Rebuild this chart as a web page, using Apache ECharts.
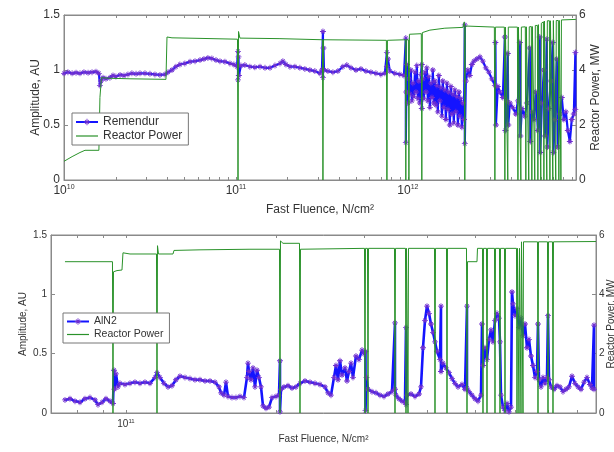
<!DOCTYPE html>
<html><head><meta charset="utf-8">
<script src="https://cdn.jsdelivr.net/npm/echarts@6.0.0/dist/echarts.min.js"></script>
<style>html,body{margin:0;padding:0;background:#fff}#c{width:614px;height:452px}</style>
</head><body><div id="c"></div>
<script>
// ---- Top panel: Remendur amplitude (log10 of fast fluence, amplitude AU)
const remLogF = [10.000,10.023,10.047,10.070,10.093,10.116,10.140,10.163,10.186,10.203,
10.209,10.215,10.227,10.244,10.267,10.285,10.302,10.326,10.349,10.372,
10.395,10.419,10.442,10.471,10.500,10.529,10.558,10.587,10.605,10.628,
10.651,10.674,10.703,10.733,10.762,10.791,10.814,10.837,10.860,10.884,
10.907,10.936,10.965,10.988,11.006,11.012,11.012,11.015,11.017,11.029,
11.052,11.081,11.110,11.140,11.169,11.198,11.227,11.256,11.273,11.291,
11.314,11.343,11.372,11.401,11.430,11.459,11.488,11.500,11.506,11.506,
11.509,11.512,11.535,11.564,11.593,11.622,11.645,11.669,11.698,11.727,
11.756,11.785,11.814,11.843,11.866,11.878,11.878,11.884,11.895,11.924,
11.953,11.977,
11.988,11.988,11.991,11.994,12.000,12.006,12.012,12.017,12.023,12.029,
12.035,12.041,12.047,12.052,12.058,12.064,12.070,12.076,12.081,12.081,
12.087,12.093,12.099,12.105,12.110,12.116,12.122,12.128,12.134,12.140,
12.145,12.151,12.157,12.163,12.169,12.174,12.180,12.186,12.192,12.198,
12.203,12.209,12.215,12.221,12.227,12.233,12.238,12.244,12.250,12.256,
12.262,12.267,12.273,12.279,12.285,12.291,12.297,12.302,12.308,12.314,
12.320,12.326,12.331,12.331,
12.337,12.349,
12.360,12.372,12.384,12.401,12.419,12.436,12.453,12.471,12.488,12.506,
12.509,12.512,12.523,12.535,12.552,12.564,12.567,12.576,12.581,12.584,
12.593,12.610,12.628,12.640,12.651,12.654,12.663,12.680,12.692,12.709,
12.712,12.721,12.733,12.744,12.756,12.767,12.770,12.779,12.791,12.797,
12.808,12.811,12.820,12.831,12.843,12.846,12.855,12.866,12.872,12.884,
12.895,12.907,12.919,12.930,12.942,12.953,12.965,12.974,12.974];
const remAmp = [0.97,0.98,0.97,0.975,0.97,0.98,0.975,0.98,0.985,0.97,
0.86,0.90,0.93,0.92,0.93,0.95,0.94,0.955,0.95,0.96,
0.97,0.965,0.97,0.97,0.965,0.96,0.955,0.96,0.98,1.0,
1.03,1.05,1.06,1.075,1.08,1.09,1.10,1.11,1.105,1.09,
1.08,1.075,1.06,1.05,1.03,1.17,0.91,1.12,0.95,1.04,
1.045,1.03,1.025,1.03,1.02,1.02,1.04,1.06,1.08,1.05,
1.03,1.03,1.02,1.01,1.0,0.99,0.97,1.0,1.35,0.93,
1.2,1.0,0.99,0.98,0.99,1.03,1.045,1.02,1.0,1.01,
0.99,0.98,0.97,0.96,0.97,1.16,1.03,1.1,0.99,0.97,
0.96,0.95,
1.29,0.34,0.80,1.05,0.70,0.92,0.78,1.00,0.72,0.88,
0.76,0.98,0.80,1.04,0.74,0.90,0.70,0.96,1.05,0.65,
0.92,0.74,0.98,0.80,1.02,0.72,0.94,0.66,0.88,0.75,
1.00,0.70,0.90,0.68,0.86,0.62,0.95,0.72,0.84,0.58,
0.90,0.66,0.82,0.55,0.88,0.64,0.80,0.50,0.85,0.60,
0.78,0.52,0.82,0.62,0.76,0.50,0.80,0.58,0.74,0.48,
0.70,0.55,1.41,0.33,
0.9,1.0,
0.95,1.05,1.08,1.1,1.12,1.08,1.02,0.98,0.92,0.86,
1.25,0.5,0.85,0.8,0.75,1.3,0.45,0.72,1.15,0.5,
0.7,0.66,0.6,0.72,1.25,0.4,0.65,0.58,0.7,1.2,
0.35,0.62,0.55,0.8,0.45,1.3,0.25,0.7,1.0,0.4,
1.28,0.3,0.65,0.9,1.25,0.25,0.55,1.1,0.3,0.6,
0.75,0.55,0.62,0.45,0.35,0.55,0.6,1.16,0.64];
// ---- Top panel: reactor power (MW)
const topPowLogF = [10.000,10.047,10.093,10.122,10.203,10.209,10.218,10.267,10.384,10.593,
10.599,10.628,10.791,11.009,11.012,11.015,11.023,11.256,11.503,11.506,
11.509,11.875,11.878,11.881,11.985,11.988,11.991,12.003,12.006,12.009,
12.078,12.081,12.084,12.128,12.215,12.320,12.328,12.331,12.334,12.343,
12.503,12.506,12.509,12.561,12.564,12.567,12.578,12.581,12.584,12.637,
12.640,12.643,12.654,12.657,12.660,12.683,12.686,12.689,12.700,12.703,
12.706,12.718,12.721,12.724,12.735,12.738,12.741,12.753,12.756,12.759,
12.770,12.773,12.776,12.788,12.791,12.794,12.805,12.808,12.811,12.823,
12.826,12.829,12.840,12.843,12.846,12.857,12.860,12.863,12.875,12.878,
12.881,12.887,12.890,12.893,12.977];
const topPow = [0.68,0.85,1.00,1.08,1.08,3.00,3.72,3.70,3.68,3.66,
5.20,5.17,5.15,5.12,0,5.40,5.16,5.14,5.10,0,
5.10,5.08,0,5.08,5.10,0,5.10,5.10,0,5.30,
5.32,0,5.36,5.45,5.52,5.55,5.75,0,5.60,5.56,
5.56,0,5.56,5.56,0,5.56,5.56,0,5.56,5.56,
0,5.56,5.56,0,5.56,5.57,0,5.57,5.57,0,
5.57,5.58,0,5.58,5.60,0,5.62,5.62,0,5.65,
5.68,0,5.70,5.75,0,5.78,5.78,0,5.79,5.79,
0,5.79,5.80,0,5.80,5.80,0,5.80,5.80,0,
5.80,5.80,0,5.82,5.84];
// ---- Bottom panel: AlN2 amplitude
const alnLogF = [10.878,10.888,10.898,10.908,10.918,10.928,10.938,10.944,10.952,10.960,
10.968,10.974,10.976,10.977,10.980,10.984,10.988,10.998,11.008,11.018,
11.028,11.038,11.048,11.058,11.062,11.068,11.076,11.084,11.092,11.100,
11.108,11.118,11.128,11.138,11.148,11.158,11.168,11.178,11.186,11.190,
11.196,11.200,11.204,11.212,11.220,11.228,11.236,11.242,11.244,11.246,
11.250,11.254,11.258,11.262,11.266,11.270,11.274,11.280,11.286,11.292,
11.300,11.306,11.308,11.308,11.310,11.316,11.324,11.332,11.340,11.348,
11.358,11.368,11.378,11.388,11.398,11.404,11.410,11.416,11.420,11.424,
11.428,11.432,11.438,11.442,11.446,11.450,11.454,11.460,11.466,11.472,
11.476,11.479,11.479,11.481,11.484,11.492,11.500,11.508,11.516,11.524,
11.532,11.538,11.538,11.540,11.546,11.552,11.558,11.560,11.560,11.562,
11.570,11.578,11.586,11.590,11.594,11.598,11.602,11.606,11.610,11.614,
11.618,11.622,11.628,11.630,11.630,11.634,11.640,11.646,11.652,11.658,
11.664,11.672,11.678,11.682,11.682,11.686,11.692,11.698,11.704,11.710,
11.712,11.714,11.718,11.722,11.726,11.730,11.734,11.738,11.742,11.746,
11.748,11.750,11.754,11.758,11.762,11.766,11.770,11.772,11.774,11.778,
11.782,11.786,11.790,11.794,11.798,11.802,11.806,11.810,11.814,11.818,
11.822,11.824,11.826,11.830,11.834,11.838,11.842,11.844,11.846,11.850,
11.856,11.862,11.868,11.874,11.880,11.886,11.892,11.898,11.904,11.910,
11.916,11.922,11.928,11.932,11.936,11.936];
const alnAmp = [0.11,0.12,0.10,0.09,0.12,0.13,0.11,0.07,0.09,0.12,
0.10,0.08,0.36,0.20,0.33,0.22,0.25,0.24,0.25,0.26,
0.25,0.26,0.25,0.30,0.34,0.30,0.25,0.22,0.23,0.28,
0.31,0.30,0.29,0.28,0.28,0.27,0.27,0.26,0.22,0.17,
0.15,0.26,0.14,0.13,0.13,0.14,0.13,0.30,0.42,0.35,
0.28,0.38,0.22,0.36,0.30,0.22,0.06,0.04,0.05,0.13,
0.14,0.15,0.44,0.01,0.20,0.22,0.23,0.21,0.22,0.25,
0.27,0.26,0.25,0.24,0.22,0.17,0.15,0.30,0.40,0.28,
0.44,0.32,0.38,0.27,0.35,0.42,0.30,0.48,0.45,0.53,
0.50,0.52,0.02,0.30,0.20,0.18,0.17,0.15,0.14,0.16,
0.18,0.76,0.20,0.15,0.12,0.10,0.09,0.72,0.07,0.15,
0.16,0.14,0.16,0.22,0.55,0.78,0.90,0.84,0.75,0.68,
0.60,0.52,0.45,0.90,0.35,0.42,0.38,0.34,0.29,0.25,
0.22,0.24,0.20,0.90,0.21,0.18,0.15,0.12,0.10,0.15,
0.75,0.40,0.55,0.45,0.62,0.70,0.60,0.78,0.84,0.80,
0.60,0.15,0.05,0.02,0.08,0.01,0.05,1.02,0.92,0.82,
0.88,0.72,0.80,0.65,0.75,0.55,0.62,0.48,0.40,0.30,
0.35,0.75,0.28,0.22,0.30,0.25,0.30,0.82,0.28,0.22,
0.20,0.23,0.22,0.18,0.20,0.22,0.31,0.25,0.22,0.20,
0.26,0.30,0.24,0.21,0.74,0.20];
// ---- Bottom panel: reactor power (MW)
const botPowLogF = [10.878,10.973,10.974,10.975,10.982,10.992,10.994,11.008,11.061,11.062,
11.063,11.065,11.094,11.096,11.148,11.248,11.307,11.308,11.309,11.314,
11.347,11.348,11.349,11.477,11.478,11.479,11.483,11.484,11.485,11.537,
11.538,11.539,11.559,11.560,11.561,11.563,11.564,11.565,11.617,11.618,
11.619,11.641,11.642,11.643,11.681,11.682,11.683,11.702,11.703,11.713,
11.714,11.715,11.721,11.722,11.723,11.737,11.738,11.739,11.747,11.748,
11.749,11.757,11.758,11.759,11.781,11.782,11.783,11.785,11.786,11.787,
11.789,11.790,11.791,11.793,11.794,11.795,11.823,11.824,11.825,11.843,
11.844,11.845,11.853,11.854,11.855,11.940];
const botPow = [5.10,5.10,0,4.76,4.80,4.82,5.40,5.36,5.36,0,
5.64,5.36,5.36,5.48,5.50,5.52,5.52,0,5.80,5.72,
5.72,0,5.52,5.55,0,5.55,5.55,0,5.55,5.55,
0,5.55,5.55,0,5.55,5.55,0,5.55,5.55,0,
5.55,5.55,0,5.55,5.55,0,5.10,5.10,5.55,5.55,
0,5.55,5.55,0,5.55,5.55,0,5.55,5.55,0,
5.55,5.55,0,5.55,5.55,0,5.55,5.55,0,5.55,
5.55,0,5.77,5.77,0,5.77,5.77,0,5.77,5.77,
0,5.77,5.77,0,5.77,5.78];
// ---- Axis tick values
const topMajor = [1e10, 1e11, 1e12];
const topMinor = [2e10,3e10,4e10,5e10,6e10,7e10,8e10,9e10,2e11,3e11,4e11,5e11,6e11,7e11,8e11,9e11,2e12,3e12,4e12,5e12,6e12,7e12,8e12,9e12];
const botMajor = [1e11];
const botMinor = [8e10,9e10,2e11,3e11,4e11,5e11,6e11,7e11,8e11];

const FONT = '"Liberation Sans", Arial, Helvetica, sans-serif';
const TXT = '#333';
const AXC = '#8a8a8a';
const BLUE = '#1414ff';
const MARK = '#7030d0';
const GREEN = '#2a922a';
const STAR = 'path://M4.3,0h1.4v10h-1.4z M0,4.3h10v1.4h-10z M1.4,2.4L2.4,1.4L8.6,7.6L7.6,8.6z M7.6,1.4L8.6,2.4L2.4,8.6L1.4,7.6z';
const LINEICON = 'path://M0,4.4h22v1.2h-22z';

function pairs(lf, v) { return lf.map((e, i) => [Math.pow(10, e), v[i]]); }
function supFmt(v) { const e = Math.round(Math.log10(v)); return '{b|10}{s|' + e + '}'; }

function xAxes(g, min, max, major, minor, fs, margin, gap) {
  const common = {
    type: 'log', gridIndex: g, min: min, max: max, logBase: 10,
    axisLine: { show: true, onZero: false, lineStyle: { color: AXC, width: 1 } },
    axisTick: { show: true, inside: true, length: 3, customValues: major.concat(minor), lineStyle: { color: AXC } },
    splitLine: { show: false }, minorTick: { show: false }
  };
  return [
    Object.assign({}, common, {
      position: 'bottom',
      axisLabel: { customValues: major, formatter: supFmt, margin: margin, color: TXT,
        rich: { b: { fontSize: fs, fontFamily: FONT, color: TXT, lineHeight: fs + 2 },
                s: { fontSize: Math.round(fs * 0.6), fontFamily: FONT, color: TXT, verticalAlign: 'top', lineHeight: fs + 2 } } },
      name: 'Fast Fluence, N/cm²', nameLocation: 'middle', nameGap: gap, nameMoveOverlap: false,
      nameTextStyle: { fontSize: fs, color: TXT, fontFamily: FONT }
    }),
    Object.assign({}, common, { position: 'top', axisLabel: { show: false } })
  ];
}
function yAxes(g, fs, lgap, rgap) {
  const base = { type: 'value', gridIndex: g, splitLine: { show: false },
    axisLine: { show: true, lineStyle: { color: AXC } },
    axisTick: { show: true, inside: true, length: 4, lineStyle: { color: AXC } },
    nameLocation: 'middle', nameRotate: 90, nameMoveOverlap: false,
    nameTextStyle: { fontSize: fs, color: TXT, fontFamily: FONT } };
  return [
    Object.assign({}, base, { position: 'left', min: 0, max: 1.5, interval: 0.5,
      axisLabel: { fontSize: fs, color: TXT, fontFamily: FONT, margin: 4 },
      name: 'Amplitude, AU', nameGap: lgap }),
    Object.assign({}, base, { position: 'right', min: 0, max: 6, interval: 2,
      axisLabel: { fontSize: fs, color: TXT, fontFamily: FONT, margin: 3 },
      name: 'Reactor Power, MW', nameGap: rgap })
  ];
}
function ampSeries(name, xi, yi, data, sz, lw) {
  return { name: name, type: 'line', xAxisIndex: xi, yAxisIndex: yi, data: data,
    symbol: STAR, symbolSize: sz, showSymbol: true, showAllSymbol: true,
    lineStyle: { color: BLUE, width: lw }, itemStyle: { color: MARK }, z: 2 };
}
function powSeries(xi, yi, data) {
  return { name: 'Reactor Power', type: 'line', xAxisIndex: xi, yAxisIndex: yi, data: data,
    symbol: 'none', lineStyle: { color: GREEN, width: 1 }, itemStyle: { color: GREEN }, z: 3 };
}
function legend(ampName, left, top, fs) {
  return { data: [ampName, { name: 'Reactor Power', icon: LINEICON, itemStyle: { color: GREEN } }],
    left: left, top: top, orient: 'vertical', backgroundColor: '#fff',
    borderColor: '#777', borderWidth: 1, padding: [3, 6, 3, 3], itemGap: 2,
    itemWidth: 22, itemHeight: 8, textStyle: { fontSize: fs, color: TXT, fontFamily: FONT } };
}

const chart = echarts.init(document.getElementById('c'));
chart.setOption({
  animation: false,
  backgroundColor: '#fff',
  grid: [
    { left: 64, top: 15, width: 512, height: 165, show: true, borderColor: AXC, borderWidth: 1, backgroundColor: '#fff', containLabel: false, outerBoundsMode: 'none' },
    { left: 51, top: 235, width: 545, height: 178, show: true, borderColor: AXC, borderWidth: 1, backgroundColor: '#fff', containLabel: false, outerBoundsMode: 'none' }
  ],
  xAxis: xAxes(0, 1e10, 9.5e12, topMajor, topMinor, 12, 4, 24)
    .concat(xAxes(1, 7.08e10, 8.71e11, botMajor, botMinor, 10, 5, 21)),
  yAxis: yAxes(0, 12, 22, 14).concat(yAxes(1, 10, 23, 10)),
  legend: [
    legend('Remendur', 72, 113, 12),
    legend('AlN2', 63, 313, 10.5)
  ],
  series: [
    ampSeries('Remendur', 0, 0, pairs(remLogF, remAmp), 6, 2.2),
    powSeries(0, 1, pairs(topPowLogF, topPow)),
    ampSeries('AlN2', 2, 2, pairs(alnLogF, alnAmp), 6, 2.6),
    powSeries(2, 3, pairs(botPowLogF, botPow))
  ]
});
</script>
</body></html>
